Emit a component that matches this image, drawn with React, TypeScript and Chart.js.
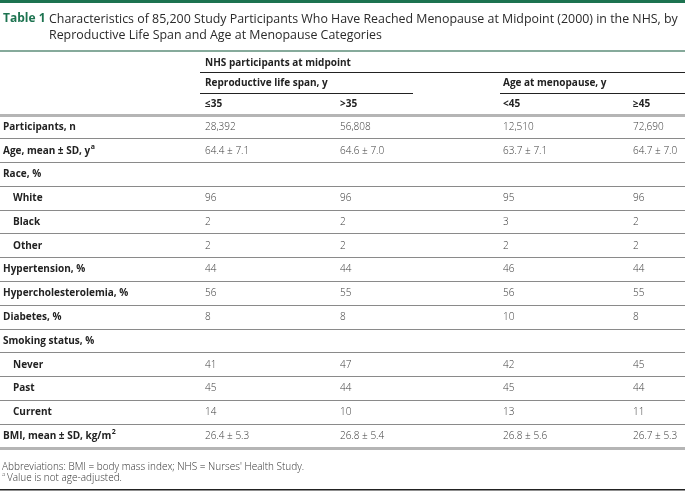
import React, { useEffect, useRef } from "react";
import { Chart, registerables } from "chart.js";

Chart.register(...registerables);

// ---------- data ----------
const tableLabel = "Table 1";
const titleLine1 =
  "Characteristics of 85,200 Study Participants Who Have Reached Menopause at Midpoint (2000) in the NHS, by";
const titleLine2 = "Reproductive Life Span and Age at Menopause Categories";
const groupHeader = "NHS participants at midpoint";
const subGroups = ["Reproductive life span, y", "Age at menopause, y"];
const columns = ["≤35", ">35", "<45", "≥45"];

const rowLabels = [
  "Participants, n",
  "Age, mean ± SD, y",
  "Race, %",
  "White",
  "Black",
  "Other",
  "Hypertension, %",
  "Hypercholesterolemia, %",
  "Diabetes, %",
  "Smoking status, %",
  "Never",
  "Past",
  "Current",
  "BMI, mean ± SD, kg/m",
];
const rowSup = ["", "a", "", "", "", "", "", "", "", "", "", "", "", "2"];
const rowIndented = [false, false, false, true, true, true, false, false, false, false, true, true, true, false];

const spanLE35 = ["28,392", "64.4 ± 7.1", "", "96", "2", "2", "44", "56", "8", "", "41", "45", "14", "26.4 ± 5.3"];
const spanGT35 = ["56,808", "64.6 ± 7.0", "", "96", "2", "2", "44", "55", "8", "", "47", "44", "10", "26.8 ± 5.4"];
const menoLT45 = ["12,510", "63.7 ± 7.1", "", "95", "3", "2", "46", "56", "10", "", "42", "45", "13", "26.8 ± 5.6"];
const menoGE45 = ["72,690", "64.7 ± 7.0", "", "96", "2", "2", "44", "55", "8", "", "45", "44", "11", "26.7 ± 5.3"];
const columnValues = [spanLE35, spanGT35, menoLT45, menoGE45];

const footnote1 = "Abbreviations: BMI = body mass index; NHS = Nurses' Health Study.";
const footnote2Sup = "a";
const footnote2 = "Value is not age-adjusted.";

// ---------- layout / style ----------
const W = 685;
const H = 492;
const colX = [205, 340, 503, 633];
const FONT = '"Open Sans", "Noto Sans", sans-serif';
const GREEN = "#1d7350";

function txt(
  ctx: CanvasRenderingContext2D,
  s: string,
  x: number,
  y: number,
  size: number,
  weight: string,
  color: string,
  sup?: string
) {
  ctx.font = `${weight} ${size}px ${FONT}`;
  ctx.fillStyle = color;
  ctx.textBaseline = "middle";
  ctx.textAlign = "left";
  ctx.fillText(s, x, y);
  const w = ctx.measureText(s).width;
  if (sup) {
    ctx.font = `${weight} ${Math.round(size * 0.65)}px ${FONT}`;
    ctx.fillText(sup, x + w + 0.5, y - 4);
  }
  return w;
}

function hline(ctx: CanvasRenderingContext2D, x0: number, x1: number, y: number, h: number, color: string) {
  ctx.fillStyle = color;
  ctx.fillRect(x0, Math.round(y - h / 2), x1 - x0, h);
}

const tablePlugin = {
  id: "tablePlugin",
  afterDraw(chart: any) {
    const { ctx, chartArea, scales } = chart;
    const yS = scales.y;
    const top = chartArea.top;
    ctx.save();

    // top bar
    hline(ctx, 0, W, 1.5, 3, GREEN);
    // title
    txt(ctx, tableLabel, 3, 19, 12, "bold", GREEN);
    txt(ctx, titleLine1, 49, 19, 12.4, "normal", "#2a2a2a");
    txt(ctx, titleLine2, 49, 35, 12.4, "normal", "#2a2a2a");
    hline(ctx, 0, W, 51, 2, "#86aa9b");

    // header
    txt(ctx, groupHeader, colX[0], top - 52, 10, "bold", "#222");
    hline(ctx, 200, W, top - 43, 1, "#222");
    txt(ctx, subGroups[0], colX[0], top - 32, 10, "bold", "#222");
    txt(ctx, subGroups[1], colX[2], top - 32, 10, "bold", "#222");
    hline(ctx, 200, 413, top - 22, 1, "#222");
    hline(ctx, 500, W, top - 22, 1, "#222");
    columns.forEach((c, i) => txt(ctx, c, colX[i], top - 11, 10, "bold", "#222"));
    hline(ctx, 0, W, yS.getPixelForValue(-0.5), 3, "#b5b5b5");

    // body
    rowLabels.forEach((lab, r) => {
      const yc = yS.getPixelForValue(r);
      txt(ctx, lab, rowIndented[r] ? 13 : 3, yc, 10, "bold", "#222", rowSup[r] || undefined);
      columnValues.forEach((_, c) => {
        const el = chart.getDatasetMeta(c).data[r];
        const v = columnValues[c][r];
        if (el && v) txt(ctx, v, el.x, el.y, 10, "300", "#3a3a3a");
      });
      if (r < rowLabels.length - 1) hline(ctx, 0, W, yS.getPixelForValue(r + 0.5), 1, "#8a8a8a");
    });
    hline(ctx, 0, W, yS.getPixelForValue(rowLabels.length - 0.5), 3, "#b5b5b5");

    // footnotes
    const fb = chartArea.bottom;
    txt(ctx, footnote1, 2, fb + 19, 10, "300", "#333");
    ctx.font = `300 6px ${FONT}`;
    ctx.fillStyle = "#333";
    ctx.fillText(footnote2Sup, 2, fb + 26);
    txt(ctx, footnote2, 7, fb + 30, 10, "300", "#333");
    hline(ctx, 0, W, H - 2, 1.5, "#222");

    ctx.restore();
  },
};

export default function App() {
  const ref = useRef<HTMLCanvasElement | null>(null);
  useEffect(() => {
    if (!ref.current) return;
    const chart = new Chart(ref.current, {
      type: "scatter",
      data: {
        datasets: columns.map((c, ci) => ({
          label: c,
          data: rowLabels.map((_, r) => ({ x: colX[ci], y: r })),
          pointRadius: 0,
          pointHoverRadius: 0,
        })),
      },
      options: {
        animation: false,
        responsive: false,
        maintainAspectRatio: false,
        devicePixelRatio: 1,
        events: [],
        layout: { padding: { left: 0, right: 0, top: 115, bottom: 44 } },
        plugins: { legend: { display: false }, tooltip: { enabled: false } },
        scales: {
          x: { type: "linear", min: 0, max: W, display: false },
          y: { type: "linear", min: -0.5, max: rowLabels.length - 0.5, reverse: true, display: false },
        },
      },
      plugins: [tablePlugin],
    } as any);
    return () => chart.destroy();
  }, []);
  return (
    <div style={{ position: "absolute", left: 0, top: 0, width: W, height: H, background: "#fff" }}>
      <canvas ref={ref} width={W} height={H} style={{ display: "block", width: W, height: H }} />
    </div>
  );
}
